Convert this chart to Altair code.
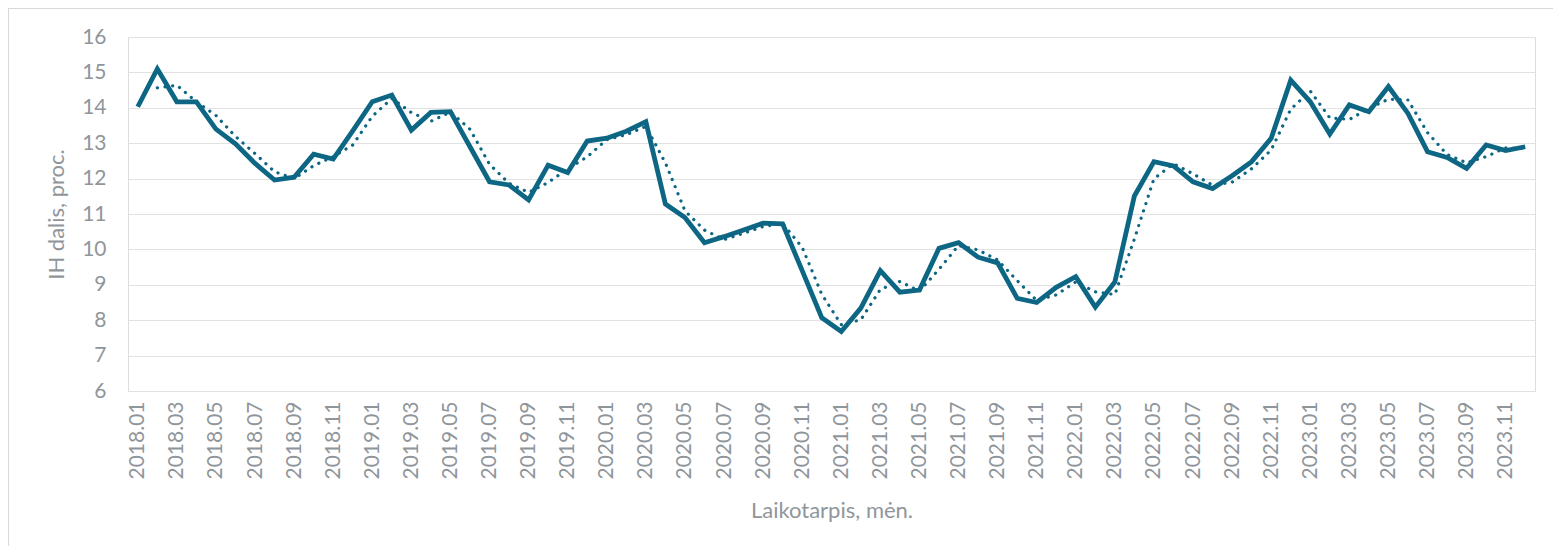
import altair as alt
import pandas as pd

months = [f"{y}.{m:02d}" for y in range(2018, 2024) for m in range(1, 13)]

values = [
    14.03, 15.10, 14.17, 14.17, 13.40, 12.98, 12.43, 11.96, 12.04, 12.69, 12.55, 13.35,
    14.17, 14.36, 13.37, 13.87, 13.89, 12.90, 11.91, 11.82, 11.40, 12.38, 12.17, 13.06,
    13.14, 13.34, 13.61, 11.28, 10.90, 10.19, 10.36, 10.55, 10.74, 10.72, 9.40, 8.07,
    7.68, 8.34, 9.40, 8.79, 8.85, 10.03, 10.19, 9.78, 9.62, 8.62, 8.50, 8.93,
    9.23, 8.37, 9.08, 11.51, 12.48, 12.36, 11.91, 11.72, 12.08, 12.48, 13.14, 14.78,
    14.17, 13.26, 14.08, 13.89, 14.60, 13.84, 12.76, 12.60, 12.29, 12.95, 12.79, 12.90,
]

tick_labels = months[::2]
y_ticks = list(range(6, 17))

df = pd.DataFrame({"i": range(len(months)), "month": months, "value": values})

FONT = "Lato"
TEXT = "#8f969b"
LINE = "#0d6683"

x_axis = alt.Axis(
    values=tick_labels,
    labelAngle=-90,
    labelFontSize=21,
    labelColor=TEXT,
    labelFont=FONT,
    labelPadding=10,
    ticks=False,
    domain=False,
    grid=False,
    titleFontSize=22,
    titleColor=TEXT,
    titleFont=FONT,
    titleFontWeight="normal",
    titlePadding=21,
)

y_axis = alt.Axis(
    values=y_ticks,
    labelFontSize=21,
    labelColor=TEXT,
    labelFont=FONT,
    labelPadding=22,
    labelOverlap=False,
    ticks=False,
    domain=False,
    grid=True,
    gridColor="#e2e2e2",
    gridWidth=1.2,
    titleFontSize=22,
    titleColor=TEXT,
    titleFont=FONT,
    titleFontWeight="normal",
    titlePadding=13,
)

x_scale = alt.Scale(domain=months)
y_scale = alt.Scale(domain=[6, 16], nice=False, zero=False)

X_TITLE = "Laikotarpis, mėn."
Y_TITLE = "IH dalis, proc."

base = alt.Chart(df)

solid = base.mark_line(color=LINE, strokeWidth=4.8, strokeJoin="miter", strokeCap="butt").encode(
    x=alt.X("month:O", sort=None, scale=x_scale, axis=x_axis, title=X_TITLE),
    y=alt.Y("value:Q", scale=y_scale, axis=y_axis, title=Y_TITLE),
    order="i:Q",
)

dotted = (
    base.transform_window(ma="mean(value)", frame=[-1, 0], sort=[alt.SortField("i")])
    .transform_filter("datum.i > 0")
    .mark_line(color=LINE, strokeWidth=3.2, strokeCap="round", strokeDash=[0.1, 7.6])
    .encode(
        x=alt.X("month:O", sort=None, scale=x_scale, axis=x_axis, title=X_TITLE),
        y=alt.Y("ma:Q", scale=y_scale, axis=y_axis, title=Y_TITLE),
        order="i:Q",
    )
)

frame = alt.Chart(pd.DataFrame({"a": [0]})).mark_rect(
    fill=None, stroke="#d9d9d9", strokeWidth=1.2
).encode(
    x=alt.value(-119.5), x2=alt.value(1440), y=alt.value(-28.5), y2=alt.value(600)
)

chart = (
    alt.layer(frame, dotted, solid)
    .properties(
        width=1407,
        height=354,
        autosize=alt.AutoSizeParams(type="none"),
        padding={"left": 120, "top": 29, "right": 18, "bottom": 155},
    )
    .configure_view(stroke=None)
    .configure(background="white")
)

chart.save("out.html", embed_options={"renderer": "svg", "actions": False})
